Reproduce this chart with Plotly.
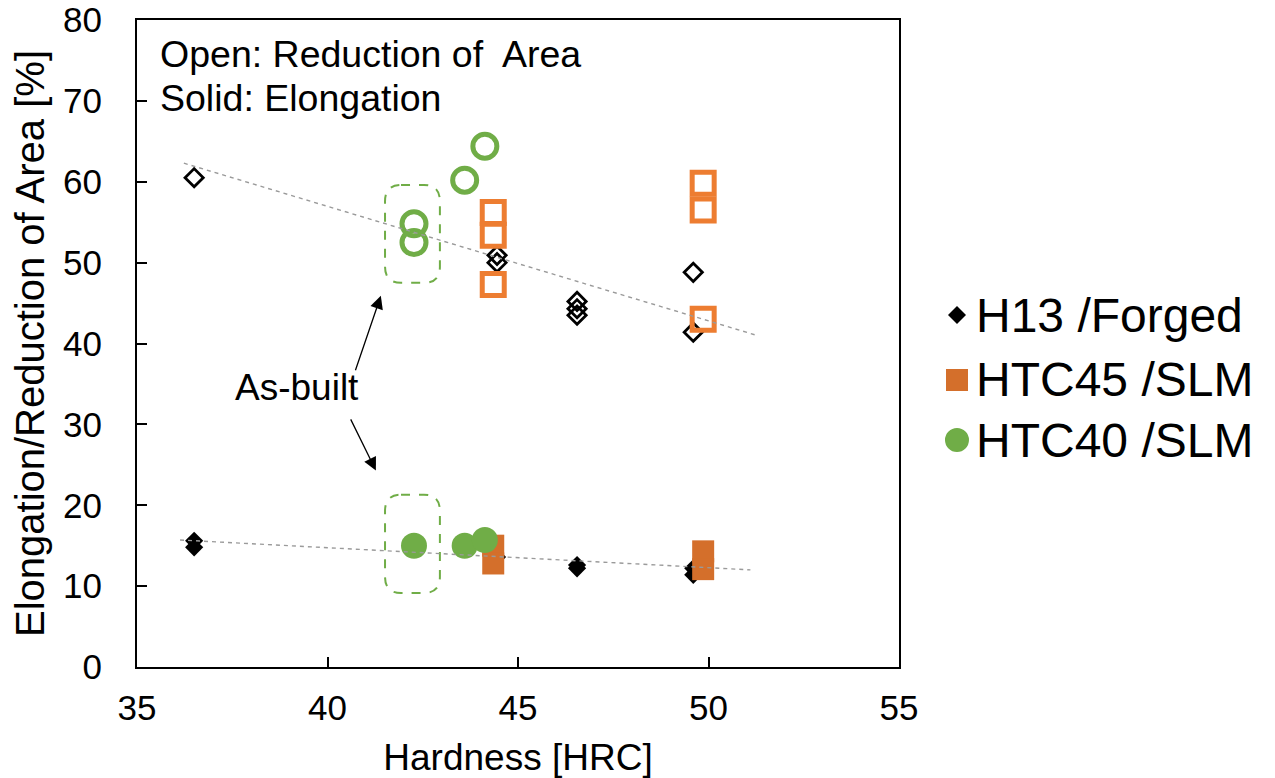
import numpy as np
import plotly.graph_objects as go

# ---- data: hardness [HRC] vs. reduction of area (open) / elongation (solid) [%]
h13_ra_hrc = [36.5, 44.45, 44.45, 46.55, 46.55, 46.55, 49.6, 49.6]
h13_ra_val = [60.5, 50.9, 50.0, 45.2, 44.3, 43.5, 48.8, 41.4]
h13_el_hrc = [36.5, 36.5, 44.45, 46.55, 46.55, 49.6, 49.6]
h13_el_val = [15.6, 14.8, 13.6, 12.6, 12.2, 12.2, 11.4]

htc45_ra_hrc = [44.35, 44.35, 44.35, 49.86, 49.86, 49.86]
htc45_ra_val = [56.2, 53.4, 47.3, 59.8, 56.5, 43.0]
htc45_el_hrc = [44.35, 44.35, 49.86, 49.86]
htc45_el_val = [15.0, 12.8, 14.3, 12.1]

htc40_ra_hrc = [42.27, 42.27, 43.6, 44.13]
htc40_ra_val = [54.8, 52.5, 60.2, 64.4]
htc40_el_hrc = [42.27, 43.6, 44.13]
htc40_el_val = [15.0, 15.0, 15.7]

# linear trendlines (slope, intercept) and their x span
ra_trend_coef = [-1.416, 113.6]
ra_trend_span = [36.23, 51.27]
el_trend_coef = [-0.247, 24.63]
el_trend_span = [36.13, 51.1]

series_names = ["H13 /Forged", "HTC45 /SLM", "HTC40 /SLM"]

BLACK = "#000000"
ORANGE = "#ED7D31"
ORANGE_D = "#D46F2B"
GREEN = "#70AD47"
FONT = "Liberation Sans, Arial, sans-serif"

fig = go.Figure()

# H13 forged
fig.add_trace(go.Scatter(x=h13_ra_hrc, y=h13_ra_val, mode="markers", name=series_names[0],
                         marker=dict(symbol="diamond-open", size=14, color=BLACK,
                                     line=dict(width=2.8, color=BLACK))))
fig.add_trace(go.Scatter(x=h13_el_hrc, y=h13_el_val, mode="markers", name=series_names[0],
                         marker=dict(symbol="diamond", size=14, color=BLACK, line=dict(width=0))))
# HTC45 SLM
fig.add_trace(go.Scatter(x=htc45_ra_hrc, y=htc45_ra_val, mode="markers", name=series_names[1],
                         marker=dict(symbol="square-open", size=22, color=ORANGE,
                                     line=dict(width=5, color=ORANGE))))
fig.add_trace(go.Scatter(x=htc45_el_hrc, y=htc45_el_val, mode="markers", name=series_names[1],
                         marker=dict(symbol="square", size=22, color=ORANGE_D, line=dict(width=0))))
# HTC40 SLM
fig.add_trace(go.Scatter(x=htc40_ra_hrc, y=htc40_ra_val, mode="markers", name=series_names[2],
                         marker=dict(symbol="circle-open", size=24, color=GREEN,
                                     line=dict(width=5, color=GREEN))))
fig.add_trace(go.Scatter(x=htc40_el_hrc, y=htc40_el_val, mode="markers", name=series_names[2],
                         marker=dict(symbol="circle", size=26, color=GREEN, line=dict(width=0))))

# trendlines
for coef, span in ((ra_trend_coef, ra_trend_span), (el_trend_coef, el_trend_span)):
    xs = np.array(span)
    fig.add_trace(go.Scatter(x=xs, y=np.polyval(coef, xs), mode="lines",
                             hoverinfo="skip",
                             line=dict(color="#9A9A9A", width=1.4, dash="4px,4px")))


def rounded_box(x0, x1, y0, y1, rx, ry):
    return (f"M {x0 + rx},{y1} L {x1 - rx},{y1} Q {x1},{y1} {x1},{y1 - ry} "
            f"L {x1},{y0 + ry} Q {x1},{y0} {x1 - rx},{y0} L {x0 + rx},{y0} "
            f"Q {x0},{y0} {x0},{y0 + ry} L {x0},{y1 - ry} Q {x0},{y1} {x0 + rx},{y1} Z")


box_style = dict(type="path", xref="x", yref="y", line=dict(color=GREEN, width=2, dash="dash"),
                 layer="below")
fig.add_shape(path=rounded_box(41.51, 42.95, 47.5, 59.6, 0.42, 2.0), **box_style)
fig.add_shape(path=rounded_box(41.51, 42.95, 9.15, 21.3, 0.42, 2.0), **box_style)

fig.add_annotation(x=0.027, y=0.948, xref="paper", yref="paper", xanchor="left", yanchor="middle",
                   text="Open: Reduction of  Area", showarrow=False,
                   font=dict(family=FONT, size=37.5, color=BLACK))
fig.add_annotation(x=0.027, y=0.879, xref="paper", yref="paper", xanchor="left", yanchor="middle",
                   text="Solid: Elongation", showarrow=False,
                   font=dict(family=FONT, size=37.5, color=BLACK))
fig.add_annotation(x=39.2, y=34.5, xref="x", yref="y", text="As-built", showarrow=False,
                   font=dict(family=FONT, size=37, color=BLACK))
arrow = dict(xref="x", yref="y", axref="x", ayref="y", text="", showarrow=True,
             arrowhead=2, arrowsize=2.0, arrowwidth=1.3, arrowcolor=BLACK)
fig.add_annotation(x=41.4, y=45.9, ax=40.72, ay=36.5, **arrow)
fig.add_annotation(x=41.27, y=24.3, ax=40.59, ay=30.8, **arrow)

# legend: marker glyph + label per series, placed right of the plot area
legend_rows = [0.544, 0.4436, 0.3508]
legend_glyph_x = 1.0761
legend_text_x = 1.0985
glyph = dict(xref="paper", yref="paper", xsizemode="pixel", ysizemode="pixel",
             line=dict(width=0))
fig.add_shape(type="path", xanchor=legend_glyph_x, yanchor=legend_rows[0],
              path="M -9,0 L 0,9 L 9,0 L 0,-9 Z", fillcolor=BLACK, **glyph)
fig.add_shape(type="rect", xanchor=legend_glyph_x, yanchor=legend_rows[1],
              x0=-11, x1=11, y0=-11, y1=11, fillcolor=ORANGE_D, **glyph)
fig.add_shape(type="circle", xanchor=legend_glyph_x, yanchor=legend_rows[2],
              x0=-12, x1=12, y0=-12, y1=12, fillcolor=GREEN, **glyph)
for name, row in zip(series_names, legend_rows):
    fig.add_annotation(x=legend_text_x, y=row, xref="paper", yref="paper", xanchor="left",
                       yanchor="middle", text=name, showarrow=False,
                       font=dict(family=FONT, size=48, color=BLACK))

axis_common = dict(showline=True, linecolor=BLACK, linewidth=2, mirror=True, showgrid=False,
                   zeroline=False, ticks="inside", ticklen=10, tickwidth=2, tickcolor=BLACK,
                   tickfont=dict(family=FONT, size=35, color=BLACK), automargin=False)

fig.update_layout(
    width=1275, height=778,
    margin=dict(l=137, r=376, t=20, b=111),
    paper_bgcolor="white", plot_bgcolor="white",
    font=dict(family=FONT, color=BLACK),
    showlegend=False,
    xaxis=dict(range=[35, 55], dtick=5, tick0=35, ticklabelstandoff=9,
               title=dict(text="Hardness [HRC]", font=dict(family=FONT, size=37), standoff=41),
               **axis_common),
    yaxis=dict(range=[0, 80], dtick=10, tick0=0, ticklabelstandoff=26,
               title=dict(text="Elongation/Reduction of Area [%]", font=dict(family=FONT, size=40),
                          standoff=6),
               **axis_common),
)

fig.write_html("out.html")
